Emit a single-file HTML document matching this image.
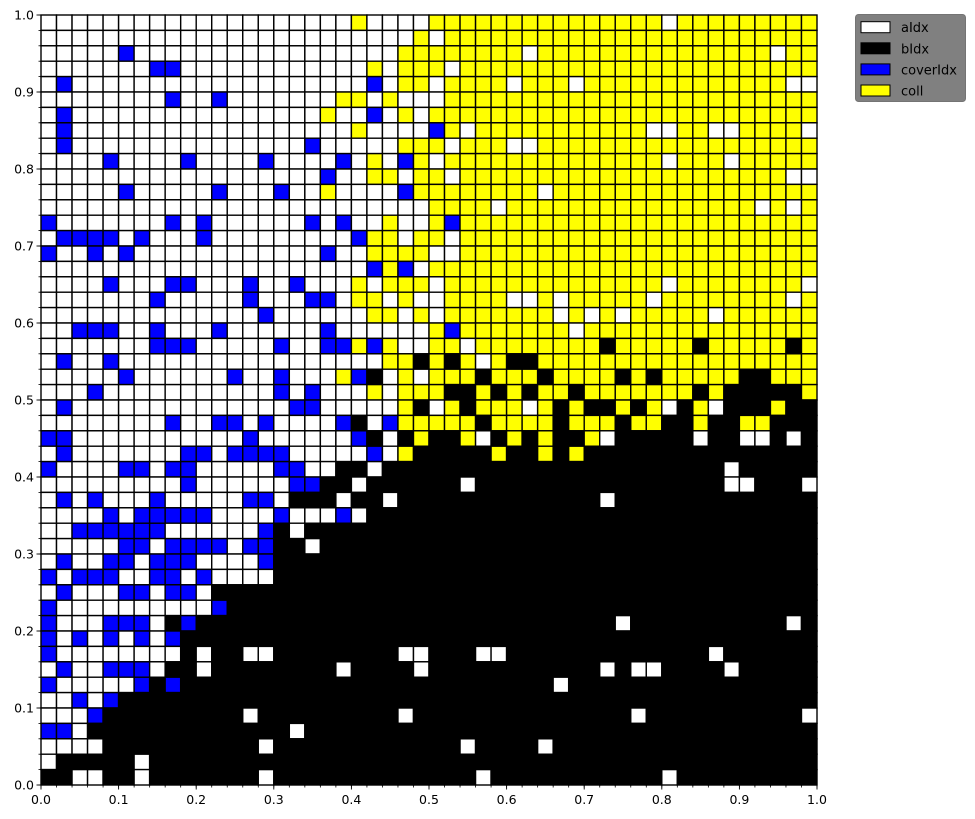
<!DOCTYPE html>
<html><head><meta charset="utf-8"><style>
html,body{margin:0;padding:0;background:#fff;}
svg{display:block;font-family:"DejaVu Sans","Liberation Sans",sans-serif;}
</style></head><body>
<svg id="chart" width="975" height="819" viewBox="0 0 975 819">
<g id="cells"></g>
<g id="axes"></g>
<g id="legend"></g>
</svg>
<script>
// Categories and colours
const categories = ['aIdx','bIdx','coverIdx','coll'];
const codes = ['W','K','B','Y'];
const colors = ['#ffffff','#000000','#0000ff','#ffff00'];
// Grid rows (top row = y 0.98..1.0), run-length encoded: left half (cols 0-24) | right half (cols 25-49)
const rowsLeft = [
"20W1Y4W","24W1Y","5W1B17W2Y","7W2B12W1Y1W2Y","1W1B19W1B1W2Y","8W1B2W1B7W2Y1W1Y2W",
"1W1B16W1Y2W1B1W1Y1W","1W1B18W1Y4W","1W1B15W1B5W2Y","4W1B4W1B4W1B4W1B1W1Y1W1B1Y",
"18W1B2W2Y1W1Y","5W1B5W1B3W1B2W1Y4W1B1Y","25W","1B7W1B1W1B6W1B1W1B2W1Y2W",
"1W4B1W1B3W1B9W1B2Y1W1Y","1B2W1B1W1B12W1B2W4Y","21W1B1Y1B1W","4W1B3W2B3W1B2W1B3W1Y1W3Y",
"7W1B5W1B3W2B1W2Y1W1Y1W","14W1B6W2Y1W1Y","2W3B2W1B3W1B6W1B6W","7W3B5W1B2W2B1Y1B1Y2W",
"1W1B2W1B17W2Y1K","5W1B6W1B2W1B3W1Y1B1K1W1Y1W","3W1B11W1B1W1B3W1Y1W2Y",
"1W1B14W2B5W1Y1K","8W1B2W2B1W1B4W1B1K1W1B2Y","2B11W1B6W1B1K1W1K1Y","1W1B7W2B1W4B5W1B1W1Y1K",
"1B4W2B1W2B5W2B2W2K1W3K","9W1B6W2B2K1W4K","1W1B1W1B3W1B5W2B1W3K1W2K1W2K","4W1B1W5B4W1B3W1B1W4K",
"2W6B6W1B1K1W8K","5W2B1W4B1W2B2K1W7K","1W1B2W2B1W3B4W1B10K","1B1W3B2W2B1W1B4W10K",
"1W1B3W2B1W2B1W14K","1B10W1B13K","1B3W3B1W1K1B15K","1B1W1B1W1B1W1B1W1B16K",
"1B8W1K1W2K2W8K2W","1W1B2W3B1W2K1W8K1W4K1W","1B5W1B1K1B16K","2W1B1W1B20K",
"3W1B9K1W9K1W1K","2B1W13K1W8K","4W10K1W10K","1W5K1W18K","2K2W2K1W7K1W10K"];
const rowsRight = [
"15Y1W9Y","1W24Y","6Y1W15Y1W2Y","1Y1W23Y","1W4Y1W3Y1W13Y2W","1W24Y","25Y",
"1B1Y1W11Y2W2Y2W4Y1W","1Y1W3Y2W18Y","1W14Y1W3Y1W5Y","1Y1W21Y2W","7Y1W17Y",
"4Y1W16Y1W1Y1W1Y","1Y1B23Y","1Y1W23Y","2W23Y","25Y","1W14Y1W8Y1W",
"1W4Y2W1Y1W5Y1W8Y1W1Y","1W7Y1W1Y1W1Y1W5Y1W6Y","1Y1B7Y1W15Y","2Y1W8Y1K5Y1K5Y1K1Y",
"1Y1K1Y1W1Y2K18Y","3Y1K3Y1K4Y1K1Y1K5Y2K3Y","1Y2K1Y1K1Y1K2Y1K7Y1K1Y5K1Y",
"1W1Y1K3Y1W1Y1K1Y2K1Y1K1Y1W1K1Y1W3K1Y2K","3Y1K4Y1K3Y1K2Y2K1Y2K2Y3K",
"2K1Y1W1K1Y1K1Y2K1Y1W5K1W2K2W1K1W1K","4K1Y2K1Y1K1Y15K","19K1W5K","2K1W16K2W3K1W","11K1W13K",
"25K","25K","25K","25K","25K","25K","25K","12K1W10K1W1K","25K","3K2W13K1W6K",
"11K1W1K2W4K1W5K","8K1W16K","25K","13K1W10K1W","25K","2K1W4K1W17K","25K","3K1W11K1W9K"];
const xTicks = [0,0.1,0.2,0.3,0.4,0.5,0.6,0.7,0.8,0.9,1.0];
const xTickLabels = ['0.0','0.1','0.2','0.3','0.4','0.5','0.6','0.7','0.8','0.9','1.0'];
const yTicks = [0,0.1,0.2,0.3,0.4,0.5,0.6,0.7,0.8,0.9,1.0];
const yTickLabels = ['0.0','0.1','0.2','0.3','0.4','0.5','0.6','0.7','0.8','0.9','1.0'];

const NS='http://www.w3.org/2000/svg';
const X0=41,X1=817,Y0=785,Y1=15;
const xs=v=>X0+(X1-X0)*v;
const ys=v=>Y0-(Y0-Y1)*v;
function expand(s){let out='';s.replace(/(\d+)([A-Z])/g,(m,n,c)=>{out+=c.repeat(+n);});return out;}
function mk(tag,attrs,parent){const e=document.createElementNS(NS,tag);for(const k in attrs)e.setAttribute(k,attrs[k]);parent.appendChild(e);return e;}
const nRows=rowsLeft.length, nCols=50;
const cellsG=document.getElementById('cells');
for(let r=0;r<nRows;r++){
  let row=(expand(rowsLeft[r]).padEnd(25,'W').slice(0,25))+(expand(rowsRight[r]).padEnd(25,'K').slice(0,25));
  for(let c=0;c<nCols;c++){
    const ci=codes.indexOf(row[c]);
    const x=xs(c/nCols), y=ys((nRows-r)/nRows);
    const w=xs((c+1)/nCols)-x, h=ys((nRows-r-1)/nRows)-y;
    const rect=mk('rect',{x:x.toFixed(2),y:y.toFixed(2),width:w.toFixed(2),height:h.toFixed(2),fill:colors[ci],stroke:'#000','stroke-width':1.4},cellsG);
    
    
  }
}
const ax=document.getElementById('axes');
const sp1=mk('line',{x1:X0,y1:Y0,x2:X1,y2:Y0,stroke:'#000','stroke-width':1},ax);


const sp2=mk('line',{x1:X0,y1:Y0,x2:X0,y2:Y1,stroke:'#000','stroke-width':1},ax);


for(let i=0;i<=50;i++){
  const v=i/50;
  mk('line',{x1:xs(v),y1:Y0,x2:xs(v),y2:Y0+2.5,stroke:'#000','stroke-width':0.8},ax);
  mk('line',{x1:X0,y1:ys(v),x2:X0-2.5,y2:ys(v),stroke:'#000','stroke-width':0.8},ax);
}
xTicks.forEach((v,i)=>{
  mk('line',{x1:xs(v),y1:Y0,x2:xs(v),y2:Y0+4.5,stroke:'#000','stroke-width':0.9},ax);
  const t=mk('text',{x:xs(v),y:Y0+19,'text-anchor':'middle','font-size':12.5,fill:'#000'},ax);
  t.textContent=xTickLabels[i];
  
  
});
yTicks.forEach((v,i)=>{
  mk('line',{x1:X0,y1:ys(v),x2:X0-4.5,y2:ys(v),stroke:'#000','stroke-width':0.9},ax);
  const t=mk('text',{x:X0-7,y:ys(v)+4.5,'text-anchor':'end','font-size':12.5,fill:'#000'},ax);
  t.textContent=yTickLabels[i];
  
  
});
const lg=document.getElementById('legend');
mk('rect',{x:855.5,y:14.5,width:110,height:87,rx:3,fill:'#808080',stroke:'#747474'},lg);
categories.forEach((name,i)=>{
  const y=21.7+i*21.1;
  const p=mk('rect',{x:861,y:y,width:29,height:11,fill:colors[i],stroke:'#000','stroke-width':1},lg);
  
  
  const t=mk('text',{x:901,y:y+10.5,'font-size':13,fill:'#000'},lg);
  t.textContent=name;
  
  
});
</script>
</body></html>
